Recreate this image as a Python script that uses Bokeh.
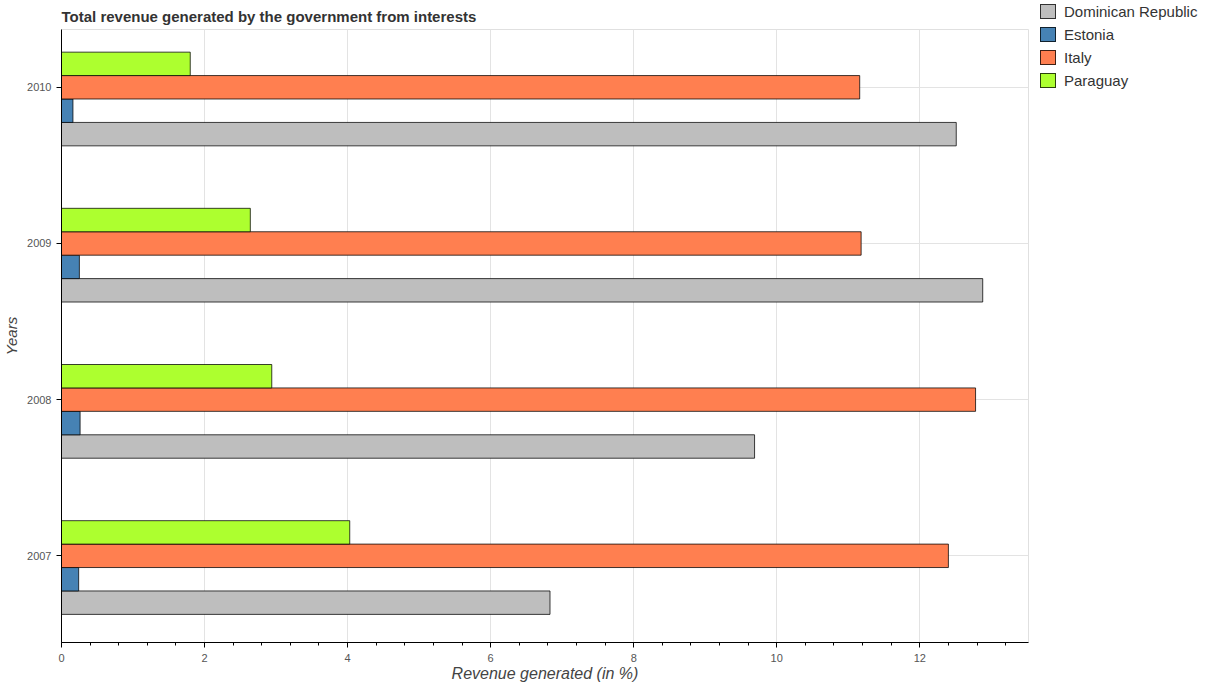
from bokeh.plotting import figure
from bokeh.models import Range1d, SingleIntervalTicker, FixedTicker, ColumnDataSource, Div
from bokeh.layouts import row
from bokeh.embed import file_html
from bokeh.resources import INLINE

# ---- data ----
years = ["2007", "2008", "2009", "2010"]
series = ["Dominican Republic", "Estonia", "Italy", "Paraguay"]
dominican_republic = [6.83, 9.69, 12.88, 12.51]
estonia = [0.24, 0.26, 0.25, 0.16]
italy = [12.40, 12.78, 11.18, 11.16]
paraguay = [4.03, 2.94, 2.64, 1.80]

values = [dominican_republic, estonia, italy, paraguay]
colors = ["#bebebe", "#4682b4", "#ff7f50", "#adff2f"]
offsets = [-0.30, -0.15, 0.0, 0.15]
bar_h = 0.15

FONT = "Liberation Sans"

p = figure(width=1030, height=684,
           min_border_left=54, min_border_top=28, min_border_right=2, min_border_bottom=0,
           x_range=Range1d(0, 13.52), y_range=Range1d(-0.555, 3.37),
           output_backend="svg", toolbar_location=None,
           title="Total revenue generated by the government from interests")

p.title.text_font = FONT
p.title.text_font_size = "15px"
p.title.text_font_style = "bold"
p.title.text_color = "#333333"
p.title.align = "left"
p.title.offset = 0
p.title.standoff = 10

p.outline_line_color = "#e0e0e0"

ypos = list(range(len(years)))
for name, vals, col, off in zip(series, values, colors, offsets):
    src = ColumnDataSource(dict(y=[y + off for y in ypos], right=vals))
    p.hbar(y="y", right="right", left=0, height=bar_h, source=src,
           fill_color=col, line_color="black", line_alpha=0.75, line_width=1)

# axes
xa = p.xaxis[0]
xa.ticker = SingleIntervalTicker(interval=2, num_minor_ticks=5)
xa.axis_label = "Revenue generated (in %)"
ya = p.yaxis[0]
ya.ticker = FixedTicker(ticks=ypos)
ya.major_label_overrides = {i: y for i, y in enumerate(years)}
ya.axis_label = "Years"

for ax in (xa, ya):
    ax.axis_line_color = "black"
    ax.axis_line_width = 1
    ax.major_tick_line_color = "black"
    ax.minor_tick_line_color = "black"
    ax.major_tick_in = 0
    ax.major_tick_out = 5
    ax.minor_tick_in = 0
    ax.minor_tick_out = 3
    ax.major_label_text_font = FONT
    ax.major_label_text_font_size = "11px"
    ax.major_label_text_color = "#555555"
    ax.major_label_text_line_height = 1.0
    ax.axis_label_text_font = FONT
    ax.axis_label_text_font_style = "italic"
    ax.axis_label_text_color = "#444444"
    ax.axis_label_text_line_height = 1.0
xa.axis_label_text_font_size = "16px"
ya.axis_label_text_font_size = "15px"
xa.major_label_standoff = 6
xa.axis_label_standoff = 0
ya.major_label_standoff = 5
ya.axis_label_standoff = 4
ya.minor_tick_line_color = None

p.xgrid.ticker = SingleIntervalTicker(interval=2)
p.xgrid.grid_line_color = "#e3e3e3"
p.ygrid.grid_line_color = "#e3e3e3"

# ---- legend (top right, outside the plot frame) ----
rows_html = []
for name, col in zip(series, colors):
    rows_html.append(
        '<div style="display:flex;align-items:center;height:15px;margin-bottom:8px;">'
        f'<span style="display:inline-block;box-sizing:border-box;width:16px;height:15px;'
        f'background:{col};border:1px solid rgba(0,0,0,0.75);margin-right:8px;"></span>'
        f'<span style="white-space:nowrap;">{name}</span></div>'
    )
legend_html = (
    f'<div style="font-family:\'{FONT}\';font-size:15px;color:#333333;'
    'padding-left:10px;padding-top:4px;line-height:15px;">'
    + "".join(rows_html) + "</div>"
)
leg = Div(text=legend_html, width=168, height=110, margin=0)

layout = row(p, leg)
open("out.html", "w").write(file_html(layout, INLINE))
